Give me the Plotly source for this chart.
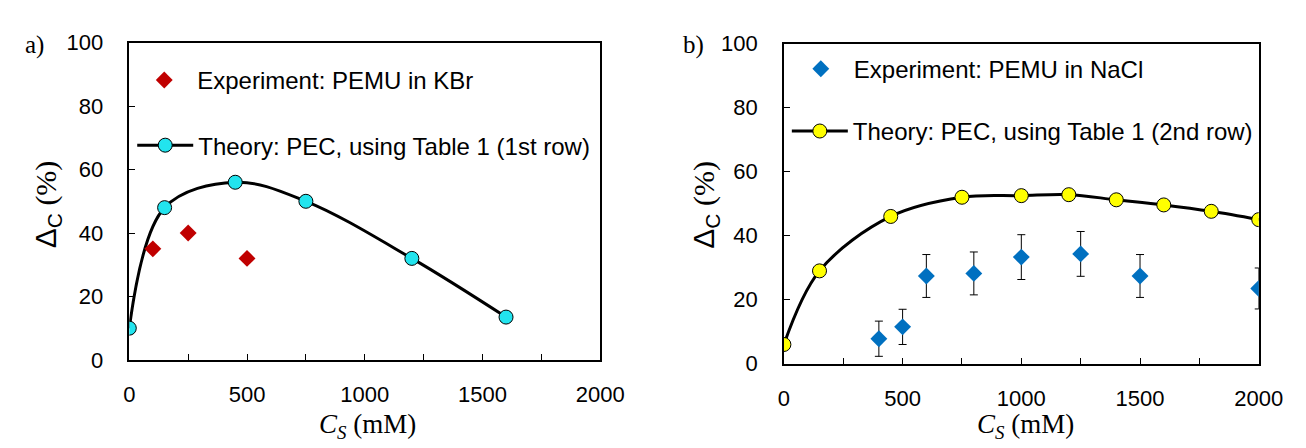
import plotly.graph_objects as go

W, H = 1306, 448

# ---- Data ----
# Panel a) KBr
theory_a_x = [0, 150, 450, 750, 1200, 1600]
theory_a_y = [10, 48, 56, 50, 32, 13.5]
exp_a_x = [100, 250, 500]
exp_a_y = [35, 40, 32]

# Panel b) NaCl
theory_b_x = [0, 150, 450, 750, 1000, 1200, 1400, 1600, 1800, 2000]
theory_b_y = [6, 29, 46, 52, 52.5, 52.8, 51.2, 49.6, 47.6, 45]
exp_b_x = [400, 500, 600, 800, 1000, 1250, 1500, 2000]
exp_b_y = [7.8, 11.5, 27.4, 28.2, 33.3, 34.3, 27.4, 23.5]
exp_b_err = [5.5, 5.5, 6.7, 6.7, 7.0, 7.0, 6.7, 6.4]

x_ticks = [0, 500, 1000, 1500, 2000]
y_ticks = [0, 20, 40, 60, 80, 100]

legend_a1 = "Experiment: PEMU in KBr"
legend_a2 = "Theory: PEC, using Table 1 (1st row)"
legend_b1 = "Experiment: PEMU in NaCl"
legend_b2 = "Theory: PEC, using Table 1 (2nd row)"

SANS = "Liberation Sans, Arial, sans-serif"
SERIF = "Liberation Serif, Times New Roman, serif"

fig = go.Figure()

fig.add_trace(go.Scatter(
    x=theory_a_x, y=theory_a_y, mode="lines+markers", name=legend_a2,
    line=dict(color="black", width=3, shape="spline", smoothing=1.0),
    marker=dict(symbol="circle", size=14, color="#22E4EE", line=dict(color="black", width=1)),
    xaxis="x", yaxis="y", legend="legend2", showlegend=True))
fig.add_trace(go.Scatter(
    x=exp_a_x, y=exp_a_y, mode="markers", name=legend_a1,
    marker=dict(symbol="diamond", size=13, color="#C00000"),
    xaxis="x", yaxis="y", legend="legend", showlegend=True))

fig.add_trace(go.Scatter(
    x=theory_b_x, y=theory_b_y, mode="lines+markers", name=legend_b2,
    line=dict(color="black", width=3, shape="spline", smoothing=1.0),
    marker=dict(symbol="circle", size=14, color="#FFFF00", line=dict(color="black", width=1)),
    xaxis="x2", yaxis="y2", legend="legend4", showlegend=True))
fig.add_trace(go.Scatter(
    x=exp_b_x, y=exp_b_y, mode="markers", name=legend_b1,
    error_y=dict(type="data", array=exp_b_err, visible=True, color="black", thickness=1, width=4),
    marker=dict(symbol="diamond", size=13, color="#0070C0"),
    xaxis="x2", yaxis="y2", legend="legend3", showlegend=True))

def px_x(p):
    return p / W

def px_y(p):
    return 1 - p / H

axis_common = dict(
    showline=True, linecolor="black", linewidth=1.5, mirror=True,
    ticks="inside", ticklen=6, tickwidth=1.2, tickcolor="black",
    showgrid=False, zeroline=False,
    tickfont=dict(family=SANS, size=22, color="black"),
)

xa = dict(axis_common, range=[0, 2000], tickvals=x_ticks,
          minor=dict(dtick=250, ticks="inside", ticklen=6, tickwidth=1.2, tickcolor="black", showgrid=False),
          ticklabelstandoff=14)
ya = dict(axis_common, range=[0, 100], tickvals=y_ticks, ticklabelstandoff=20)

fig.update_layout(
    width=W, height=H, showlegend=True,
    margin=dict(l=0, r=0, t=0, b=0),
    paper_bgcolor="white", plot_bgcolor="white",
    xaxis=dict(xa, domain=[px_x(118), px_x(600)], anchor="y"),
    yaxis=dict(ya, domain=[px_y(360), px_y(24)], anchor="x"),
    xaxis2=dict(xa, domain=[px_x(788), px_x(1274)], anchor="y2"),
    yaxis2=dict(ya, domain=[px_y(364), px_y(25)], anchor="x2"),
)

leg_common = dict(font=dict(family=SANS, size=24, color="black"), bgcolor="rgba(0,0,0,0)",
                  xanchor="left", yanchor="middle", itemwidth=56, borderwidth=0)
fig.update_layout(
    legend=dict(leg_common, x=px_x(120), y=px_y(64)),
    legend2=dict(leg_common, x=px_x(121), y=px_y(133)),
    legend3=dict(leg_common, x=px_x(792), y=px_y(52)),
    legend4=dict(leg_common, x=px_x(791), y=px_y(118)),
)

ytitle = '<span style="font-family:Liberation Sans">Δ<sub>C</sub></span> (%)'
xtitle = '<i>C<sub>S</sub></i> (mM)'
anns = [
    dict(text=ytitle, x=px_x(34), y=px_y(195), textangle=-90, size=30),
    dict(text=ytitle, x=px_x(707), y=px_y(196), textangle=-90, size=30),
    dict(text=xtitle, x=px_x(362), y=px_y(430), size=27),
    dict(text=xtitle, x=px_x(1035), y=px_y(430), size=27),
    dict(text="a)", x=px_x(21), y=px_y(26), size=25),
    dict(text="b)", x=px_x(695), y=px_y(26), size=25),
]
out = []
for a in anns:
    s = a.pop("size")
    a.update(xref="paper", yref="paper", showarrow=False, xanchor="center", yanchor="middle",
             font=dict(family=SERIF, size=s, color="black"))
    out.append(a)
fig.update_layout(annotations=out)

fig.write_html("out.html")
